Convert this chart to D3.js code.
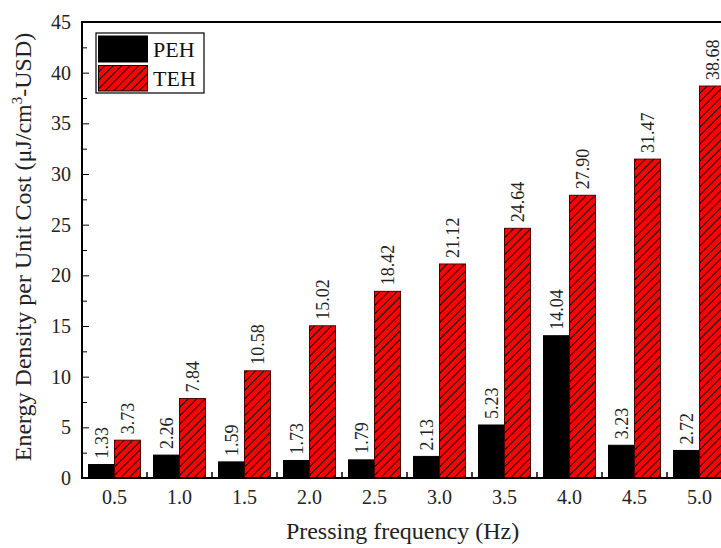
<!DOCTYPE html>
<html>
<head>
<meta charset="utf-8">
<script src="https://cdn.jsdelivr.net/npm/d3@7"></script>
<style>
  html, body { margin: 0; padding: 0; background: #fff; overflow: hidden; }
  svg { display: block; font-family: "Liberation Serif", "DejaVu Serif", serif; }
</style>
</head>
<body>
<svg id="chart" width="721" height="548"></svg>
<script>
// Pressing frequencies (Hz)
const categories = ["0.5", "1.0", "1.5", "2.0", "2.5", "3.0", "3.5", "4.0", "4.5", "5.0"];
// Energy density per unit cost, μJ/cm³-USD
const pehValues = [1.33, 2.26, 1.59, 1.73, 1.79, 2.13, 5.23, 14.04, 3.23, 2.72];
const tehValues = [3.73, 7.84, 10.58, 15.02, 18.42, 21.12, 24.64, 27.90, 31.47, 38.68];
const seriesNames = ["PEH", "TEH"];
const yTicks = [0, 5, 10, 15, 20, 25, 30, 35, 40, 45];

const FONT = '"Liberation Serif", "DejaVu Serif", serif';
const svg = d3.select("#chart");
const plotLeft = 82, plotRight = 732, plotTop = 22, plotBottom = 478;

const x = d3.scaleBand().domain(categories).range([plotLeft, plotRight]).paddingInner(0.2).paddingOuter(0.1);
const xs = d3.scaleBand().domain(seriesNames).range([0, x.bandwidth()]);
const y = d3.scaleLinear().domain([0, 45]).range([plotBottom, plotTop]);

// hatch pattern for TEH bars
const defs = svg.append("defs");
const pat = defs.append("pattern")
  .attr("id", "hatch").attr("patternUnits", "userSpaceOnUse")
  .attr("width", 6).attr("height", 6)
  .attr("patternTransform", "rotate(45)");
pat.append("rect").attr("width", 6).attr("height", 6).attr("fill", "#ff0000");
pat.append("line").attr("x1", 0.5).attr("y1", 0).attr("x2", 0.5).attr("y2", 6)
  .attr("stroke", "#000").attr("stroke-width", 1);

const rows = categories.map((c, i) => ({ c, PEH: pehValues[i], TEH: tehValues[i] }));

// bars
const groups = svg.append("g").selectAll("g").data(rows).join("g")
  .attr("transform", d => `translate(${x(d.c)},0)`);

groups.append("rect")
  .attr("x", xs("PEH")).attr("width", xs.bandwidth())
  .attr("y", d => y(d.PEH)).attr("height", d => y(0) - y(d.PEH))
  .attr("fill", "#000").attr("stroke", "#000").attr("stroke-width", 1);

groups.append("rect")
  .attr("x", xs("TEH")).attr("width", xs.bandwidth())
  .attr("y", d => y(d.TEH)).attr("height", d => y(0) - y(d.TEH))
  .attr("fill", "url(#hatch)").attr("stroke", "#4a0000").attr("stroke-width", 1);

// value labels, rotated
seriesNames.forEach(s => {
  groups.append("text")
    .attr("transform", d => `translate(${xs(s) + xs.bandwidth() / 2 + 6},${y(d[s]) - 6}) rotate(-90)`)
    .attr("font-family", FONT).attr("font-size", 18).attr("fill", "#222")
    .text(d => d[s].toFixed(2));
});

// axes
const yAxis = svg.append("g").attr("transform", `translate(${plotLeft},0)`)
  .call(d3.axisLeft(y).tickValues(yTicks).tickSize(-7).tickPadding(11).tickFormat(d3.format("d")))
  .attr("font-family", FONT);
yAxis.selectAll("text").attr("font-size", 20).attr("fill", "#222");
yAxis.select(".domain").remove();
svg.append("g").attr("transform", `translate(${plotLeft},0)`)
  .call(d3.axisLeft(y).tickValues(d3.range(2.5, 45, 5)).tickSize(-5).tickFormat(""))
  .select(".domain").remove();

const xAxis = svg.append("g").attr("transform", `translate(0,${plotBottom})`)
  .call(d3.axisBottom(x).tickSize(0).tickPadding(12))
  .attr("font-family", FONT);
xAxis.selectAll("text").attr("font-size", 20).attr("fill", "#222");
xAxis.select(".domain").remove();

// group boundary ticks on the x axis
const bounds = categories.map(c => x(c) - x.step() * 0.1);
svg.append("g").selectAll("line").data(bounds.slice(1)).join("line")
  .attr("x1", d => d).attr("x2", d => d).attr("y1", plotBottom).attr("y2", plotBottom - 6)
  .attr("stroke", "#000").attr("stroke-width", 1.5);

// frame
svg.append("line").attr("x1", plotLeft).attr("x2", plotLeft).attr("y1", plotTop).attr("y2", plotBottom)
  .attr("stroke", "#000").attr("stroke-width", 2);
svg.append("line").attr("x1", plotLeft - 1).attr("x2", plotRight).attr("y1", plotBottom).attr("y2", plotBottom)
  .attr("stroke", "#000").attr("stroke-width", 2);
svg.append("line").attr("x1", plotLeft - 1).attr("x2", plotRight).attr("y1", plotTop).attr("y2", plotTop)
  .attr("stroke", "#000").attr("stroke-width", 2);

// axis titles
svg.append("text").attr("x", (plotLeft + 721) / 2 + 1).attr("y", 539).attr("text-anchor", "middle")
  .attr("font-size", 24).attr("fill", "#222").text("Pressing frequency (Hz)");

const yt = svg.append("text").attr("transform", `translate(31,${(plotTop + plotBottom) / 2 - 3}) rotate(-90)`)
  .attr("text-anchor", "middle").attr("font-size", 24).attr("fill", "#222");
yt.append("tspan").text("Energy Density per Unit Cost (μJ/cm");
yt.append("tspan").attr("font-size", 15).attr("dy", -9).text("3");
yt.append("tspan").attr("dy", 9).text("-USD)");

// legend
const lg = svg.append("g");
lg.append("rect").attr("x", 96).attr("y", 33).attr("width", 108).attr("height", 60)
  .attr("fill", "#fff").attr("stroke", "#000").attr("stroke-width", 1.2);
lg.append("rect").attr("x", 98.5).attr("y", 36).attr("width", 49).attr("height", 26)
  .attr("fill", "#000").attr("stroke", "#000");
lg.append("rect").attr("x", 98.5).attr("y", 65.5).attr("width", 49).attr("height", 25.5)
  .attr("fill", "url(#hatch)").attr("stroke", "#000");
lg.append("text").attr("x", 153).attr("y", 57).attr("font-size", 22).attr("fill", "#111").text(seriesNames[0]);
lg.append("text").attr("x", 153).attr("y", 86).attr("font-size", 22).attr("fill", "#111").text(seriesNames[1]);
</script>
</body>
</html>
